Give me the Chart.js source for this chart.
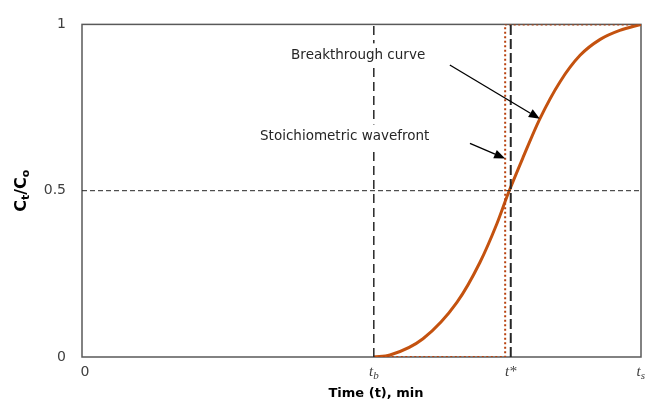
<!DOCTYPE html>
<html>
<head>
<meta charset="utf-8">
<script src="https://cdn.jsdelivr.net/npm/chart.js@4.4.1/dist/chart.umd.min.js"></script>
<style>
    body { margin: 0; background: #ffffff; }
    #breakthrough-chart { width: 646px; height: 403px; }
</style>
</head>
<body>
<div id="breakthrough-chart"><canvas width="646" height="403"></canvas></div>
<script>
// time positions (0..100 scale)
const tB = 52.2;
const tStar = 76.7;
const tWave = 75.7;
const tS = 100;

// breakthrough curve
const curveTimes = [52.2, 55.1, 61.0, 67.1, 71.2, 74.2, 76.2, 78.9, 81.9, 85.5, 89.1, 92.7, 96.2, 100];
const curveValues = [0, 0.006, 0.055, 0.165, 0.285, 0.40, 0.49, 0.60, 0.716, 0.827, 0.907, 0.955, 0.982, 1];

// stoichiometric wavefront (step)
const waveTimes = [tB, tWave, tWave, tS];
const waveValues = [0, 0, 1, 1];

// tick labels
const xTickValues = [0, tB, tStar, tS];
const xTickLabels = ["0", "t", "t*", "t"];
const xTickSubs = ["", "b", "", "s"];
const yTickValues = [0, 0.5, 1];

// annotations: text, centre (time, value)
const noteTexts = ["Breakthrough curve", "Stoichiometric wavefront"];
const noteTimes = [49.4, 47.0];
const noteValues = [0.907, 0.663];
// arrows: from -> to (time, value)
const arrowFrom = [[65.8, 0.878], [69.4, 0.642]];
const arrowTo = [[81.9, 0.716], [75.7, 0.597]];

var breakthroughChart;

function toPoints(xs, ys) {
    return xs.map((x, i) => ({ x: x, y: ys[i] }));
}

function drawArrow(ctx, x1, y1, x2, y2) {
    const angle = Math.atan2(y2 - y1, x2 - x1);
    const len = 11;
    const half = 4.5;
    const bx = x2 - len * Math.cos(angle);
    const by = y2 - len * Math.sin(angle);
    ctx.beginPath();
    ctx.moveTo(x1, y1);
    ctx.lineTo(bx, by);
    ctx.stroke();
    ctx.beginPath();
    ctx.moveTo(x2, y2);
    ctx.lineTo(bx + half * Math.sin(angle), by - half * Math.cos(angle));
    ctx.lineTo(bx - half * Math.sin(angle), by + half * Math.cos(angle));
    ctx.closePath();
    ctx.fill();
}

const decorations = {
    id: "decorations",
    beforeDatasetsDraw(chart) {
        const ctx = chart.ctx;
        const area = chart.chartArea;
        ctx.save();
        ctx.strokeStyle = "#595959";
        ctx.lineWidth = 1.5;
        ctx.strokeRect(area.left, area.top, area.right - area.left, area.bottom - area.top);
        ctx.restore();
    },
    afterDatasetsDraw(chart) {
        const ctx = chart.ctx;
        const xs = chart.scales.x;
        const ys = chart.scales.y;
        ctx.save();

        // annotation texts with white boxes
        ctx.font = '13.5px "DejaVu Sans"';
        ctx.textAlign = "center";
        ctx.textBaseline = "middle";
        noteTexts.forEach((text, i) => {
            const px = xs.getPixelForValue(noteTimes[i]);
            const py = ys.getPixelForValue(noteValues[i]);
            const w = ctx.measureText(text).width;
            ctx.fillStyle = "#ffffff";
            ctx.fillRect(px - w / 2 - 4, py - 12, w + 8, 24);
            ctx.fillStyle = "#262626";
            ctx.fillText(text, px, py);
        });

        // arrows
        ctx.strokeStyle = "#000000";
        ctx.fillStyle = "#000000";
        ctx.lineWidth = 1.3;
        arrowFrom.forEach((from, i) => {
            drawArrow(ctx,
                xs.getPixelForValue(from[0]), ys.getPixelForValue(from[1]),
                xs.getPixelForValue(arrowTo[i][0]), ys.getPixelForValue(arrowTo[i][1]));
        });
        ctx.restore();
    },
    afterDraw(chart) {
        const ctx = chart.ctx;
        const xs = chart.scales.x;
        const area = chart.chartArea;
        ctx.save();
        ctx.fillStyle = "#404040";
        ctx.textBaseline = "middle";

        // x tick labels
        xTickValues.forEach((v, i) => {
            const px = xs.getPixelForValue(v);
            const py = area.bottom + 15;
            if (i === 0) {
                ctx.font = '14px "DejaVu Sans"';
                ctx.textAlign = "center";
                ctx.fillText(xTickLabels[i], px + 3, py);
                return;
            }
            ctx.font = 'italic 15px "Liberation Serif"';
            const w = ctx.measureText(xTickLabels[i]).width;
            ctx.font = 'italic 11px "Liberation Serif"';
            const ws = xTickSubs[i] ? ctx.measureText(xTickSubs[i]).width : 0;
            let start = px - (w + ws) / 2;
            if (start + w + ws > chart.width - 1) start = chart.width - 1 - w - ws;
            ctx.textAlign = "left";
            ctx.font = 'italic 15px "Liberation Serif"';
            ctx.fillText(xTickLabels[i], start, py);
            if (xTickSubs[i]) {
                ctx.font = 'italic 11px "Liberation Serif"';
                ctx.fillText(xTickSubs[i], start + w, py + 4);
            }
        });

        // x axis title
        ctx.fillStyle = "#000000";
        ctx.font = 'bold 13px "DejaVu Sans"';
        ctx.textAlign = "center";
        ctx.fillText("Time (t), min", 376, area.bottom + 37);

        // y axis title C_t / C_o, rotated
        ctx.translate(22, (area.top + area.bottom) / 2);
        ctx.rotate(-Math.PI / 2);
        const parts = [["C", 16, 0], ["t", 11, 4], ["/", 16, 0], ["C", 16, 0], ["o", 11, 4]];
        let total = 0;
        parts.forEach(p => {
            ctx.font = 'bold ' + p[1] + 'px "DejaVu Sans"';
            total += ctx.measureText(p[0]).width;
        });
        let cx = -total / 2;
        ctx.textAlign = "left";
        parts.forEach(p => {
            ctx.font = 'bold ' + p[1] + 'px "DejaVu Sans"';
            ctx.fillText(p[0], cx, p[2]);
            cx += ctx.measureText(p[0]).width;
        });
        ctx.restore();
    }
};

function initBreakthroughChart() {
    const datasets = [
        {
            "label": "half",
            "data": toPoints([0, tS], [0.5, 0.5]),
            "borderColor": "#262626",
            "borderWidth": 1,
            "borderDash": [5, 3],
        },
        {
            "label": "tb",
            "data": toPoints([tB, tB], [0, 1]),
            "borderColor": "#262626",
            "borderWidth": 1.5,
            "borderDash": [9, 5],
        },
        {
            "label": "tstar",
            "data": toPoints([tStar, tStar], [0, 1]),
            "borderColor": "#262626",
            "borderWidth": 2,
            "borderDash": [10, 4],
        },
        {
            "label": "Stoichiometric wavefront",
            "data": toPoints(waveTimes, waveValues),
            "borderColor": "#B8420F",
            "borderWidth": 2,
            "borderDash": [2, 2.5],
        },
        {
            "label": "Breakthrough curve",
            "data": toPoints(curveTimes, curveValues),
            "borderColor": "#C4520F",
            "borderWidth": 3,
            "cubicInterpolationMode": "monotone",
        }
    ];

    const context = document.querySelector("#breakthrough-chart canvas").getContext("2d");
    const settings = {
        type: "line",
        data: { datasets: datasets },
        options: {
            responsive: false,
            animation: false,
            layout: { padding: { top: 22, right: 5, left: 0, bottom: 0 } },
            elements: {
                point: { radius: 0 },
                line: { fill: false }
            },
            plugins: {
                legend: { display: false },
                tooltip: { enabled: false }
            },
            scales: {
                x: {
                    type: "linear",
                    min: 0,
                    max: tS,
                    grid: { display: false, drawTicks: false },
                    border: { display: false },
                    ticks: { display: false },
                    afterFit: (scale) => { scale.height = 46; }
                },
                y: {
                    type: "linear",
                    min: 0,
                    max: 1,
                    grid: { display: false, drawTicks: false },
                    border: { display: false },
                    afterBuildTicks: (scale) => {
                        scale.ticks = yTickValues.map(v => ({ value: v }));
                    },
                    ticks: {
                        padding: 16,
                        color: "#404040",
                        font: { family: "DejaVu Sans", size: 14 },
                        callback: (v) => String(v)
                    },
                    afterFit: (scale) => { scale.width = 82; }
                }
            }
        },
        plugins: [decorations]
    };

    breakthroughChart = new Chart(context, settings);
}

initBreakthroughChart();
</script>
</body>
</html>
